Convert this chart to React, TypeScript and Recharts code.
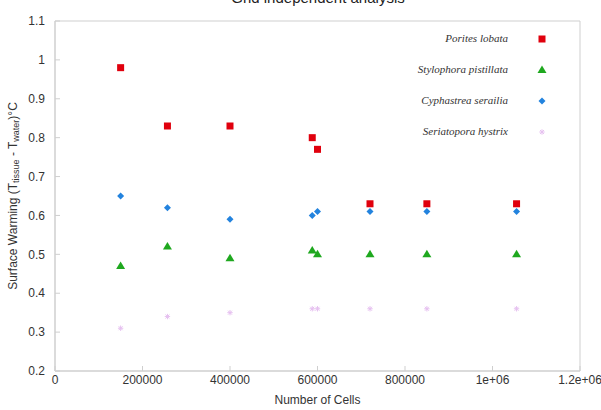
import React from 'react';
import {
  ScatterChart,
  Scatter,
  XAxis,
  YAxis,
  ReferenceArea,
  Label
} from 'recharts';

// mesh sizes used for the grid study
const cells = [150000, 257000, 400000, 588000, 600000, 720000, 850000, 1055000];

// surface warming per species (°C)
const poritesLobata = [0.98, 0.83, 0.83, 0.8, 0.77, 0.63, 0.63, 0.63];
const stylophoraPistillata = [0.47, 0.52, 0.49, 0.51, 0.5, 0.5, 0.5, 0.5];
const cyphastreaSerailia = [0.65, 0.62, 0.59, 0.6, 0.61, 0.61, 0.61, 0.61];
const seriatoporaHystrix = [0.31, 0.34, 0.35, 0.36, 0.36, 0.36, 0.36, 0.36];

const xTicks = [0, 200000, 400000, 600000, 800000, 1000000, 1200000];
const yTicks = [0.2, 0.3, 0.4, 0.5, 0.6, 0.7, 0.8, 0.9, 1, 1.1];

const toPoints = (ys: number[]) => cells.map((x, i) => ({ x, y: ys[i] }));

const fmtX = (v: number) => (v === 1000000 ? '1e+06' : v === 1200000 ? '1.2e+06' : String(v));

type MarkerKind = 'square' | 'triangle' | 'diamond' | 'star';

const Marker = ({ kind, cx, cy, color }: { kind: MarkerKind; cx: number; cy: number; color: string }) => {
  if (kind === 'square') {
    return <rect x={cx - 3.5} y={cy - 3.5} width={7} height={7} fill={color} />;
  }
  if (kind === 'triangle') {
    return <polygon points={`${cx},${cy - 4.5} ${cx + 4.5},${cy + 3} ${cx - 4.5},${cy + 3}`} fill={color} />;
  }
  if (kind === 'diamond') {
    return <polygon points={`${cx},${cy - 3.5} ${cx + 3.5},${cy} ${cx},${cy + 3.5} ${cx - 3.5},${cy}`} fill={color} />;
  }
  const r = 2.7;
  const d = r * 0.72;
  return (
    <g stroke={color} strokeWidth={1}>
      <line x1={cx - r} y1={cy} x2={cx + r} y2={cy} />
      <line x1={cx} y1={cy - r} x2={cx} y2={cy + r} />
      <line x1={cx - d} y1={cy - d} x2={cx + d} y2={cy + d} />
      <line x1={cx - d} y1={cy + d} x2={cx + d} y2={cy - d} />
    </g>
  );
};

const series: { name: string; data: number[]; color: string; kind: MarkerKind }[] = [
  { name: 'Porites lobata', data: poritesLobata, color: '#e0000d', kind: 'square' },
  { name: 'Stylophora pistillata', data: stylophoraPistillata, color: '#1fa81f', kind: 'triangle' },
  { name: 'Cyphastrea serailia', data: cyphastreaSerailia, color: '#2383de', kind: 'diamond' },
  { name: 'Seriatopora hystrix', data: seriatoporaHystrix, color: '#e6c0f0', kind: 'star' }
];

// key drawn inside the plot, top right
const SpeciesKey = () => (
  <g>
    {series.map((s, i) => (
      <g key={s.name}>
        <text
          x={508}
          y={42 + i * 31}
          textAnchor="end"
          fontFamily="'Liberation Serif', serif"
          fontStyle="italic"
          fontSize={11}
          fill="#333"
        >
          {s.name}
        </text>
        <Marker kind={s.kind} cx={542} cy={39 + i * 31} color={s.color} />
      </g>
    ))}
  </g>
);

const YTitle = ({ viewBox }: any) => {
  const cy = viewBox.y + viewBox.height / 2;
  return (
    <text
      transform={`translate(13, ${cy}) rotate(-90)`}
      textAnchor="middle"
      dominantBaseline="central"
      fontFamily="'Liberation Sans', Arial, sans-serif"
      fontSize={12}
      fill="#333"
    >
      Surface Warming (T
      <tspan fontSize={9} dy={3}>tissue</tspan>
      <tspan dy={-3}> - T</tspan>
      <tspan fontSize={9} dy={3}>water</tspan>
      <tspan dy={-3}>)°C</tspan>
    </text>
  );
};

export default function App() {
  const font = "'Liberation Sans', Arial, sans-serif";
  return (
    <div style={{ position: 'absolute', left: 0, top: 0, width: 601, height: 410, background: '#fff' }}>
      <ScatterChart width={601} height={410} margin={{ top: 21, right: 21, bottom: 0, left: 0 }}>
        <text x={318} y={3} textAnchor="middle" fontFamily={font} fontSize={15} fill="#222">
          Grid independent analysis
        </text>
        <XAxis
          type="number"
          dataKey="x"
          domain={[0, 1200000]}
          ticks={xTicks}
          tickFormatter={fmtX}
          height={39}
          tickSize={-5}
          tickMargin={9}
          axisLine={{ stroke: '#cfcfcf' }}
          tickLine={{ stroke: '#cfcfcf' }}
          tick={{ fill: '#333', fontSize: 12, fontFamily: font }}
          interval={0}
        >
          <Label value="Number of Cells" position="insideBottom" offset={6} fill="#333" fontSize={12} fontFamily={font} />
        </XAxis>
        <YAxis
          type="number"
          dataKey="y"
          domain={[0.2, 1.1]}
          ticks={yTicks}
          width={55}
          tickSize={-5}
          tickMargin={15}
          axisLine={{ stroke: '#cfcfcf' }}
          tickLine={{ stroke: '#cfcfcf' }}
          tick={{ fill: '#333', fontSize: 12, fontFamily: font }}
          interval={0}
          label={<YTitle />}
        />
        <ReferenceArea x1={0} x2={1200000} y1={0.2} y2={1.1} fill="none" fillOpacity={0} stroke="#cfcfcf" />
        <SpeciesKey />
        {series.map(s => (
          <Scatter
            key={s.name}
            name={s.name}
            data={toPoints(s.data)}
            isAnimationActive={false}
            shape={(p: any) => <Marker kind={s.kind} cx={p.cx} cy={p.cy} color={s.color} />}
          />
        ))}
      </ScatterChart>
    </div>
  );
}
